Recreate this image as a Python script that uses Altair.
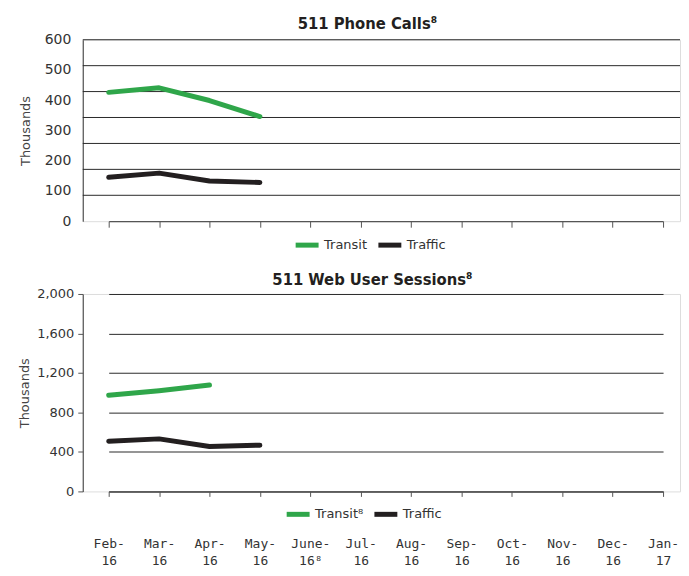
import altair as alt
import pandas as pd

months = ["Feb-16", "Mar-16", "Apr-16", "May-16", "June-16⁸", "Jul-16",
          "Aug-16", "Sep-16", "Oct-16", "Nov-16", "Dec-16", "Jan-17"]

phone_months = ["Feb-16", "Mar-16", "Apr-16", "May-16"]
phone_transit = [426, 441, 399, 346]
phone_traffic = [145, 159, 133, 128]

web_transit_months = ["Feb-16", "Mar-16", "Apr-16"]
web_transit = [973, 1020, 1078]
web_traffic_months = ["Feb-16", "Mar-16", "Apr-16", "May-16"]
web_traffic = [508, 532, 455, 468]

phone_y_labels = [0, 100, 200, 300, 400, 500, 600]
phone_grid = [85.7, 171.4, 257.1, 342.9, 428.6, 514.3, 600]
web_y_labels = [0, 400, 800, 1200, 1600, 2000]

GREEN = "#2fa64a"
BLACK = "#231f20"
TITLE_FONT = "Liberation Sans Narrow, DejaVu Sans Condensed, Liberation Sans, sans-serif"

phone_df = pd.DataFrame(
    [{"month": m, "series": "Transit", "value": v} for m, v in zip(phone_months, phone_transit)]
    + [{"month": m, "series": "Traffic", "value": v} for m, v in zip(phone_months, phone_traffic)]
)
web_df = pd.DataFrame(
    [{"month": m, "series": "Transit⁸", "value": v} for m, v in zip(web_transit_months, web_transit)]
    + [{"month": m, "series": "Traffic", "value": v} for m, v in zip(web_traffic_months, web_traffic)]
)
grid_df = pd.DataFrame({"g": phone_grid})

W = 599

x_scale = alt.Scale(type="point", domain=months, range=[26, 582], padding=0)


def legend(x, y):
    return alt.Legend(orient="none", legendX=x, legendY=y, direction="horizontal",
                      title=None, symbolType="stroke", symbolSize=529,
                      symbolStrokeWidth=5, labelFont="DejaVu Sans", labelFontSize=13,
                      labelColor="#333", columnPadding=0, labelOffset=3)


# ---------- top chart ----------
phone_y_scale = alt.Scale(domain=[0, 600], nice=False)
phone_y_axis = alt.Axis(values=phone_y_labels, grid=False, ticks=False, labelPadding=12,
                        labelFont="DejaVu Sans", labelFontSize=14, labelColor="#333",
                        domainColor="#555", domainWidth=1.2,
                        title="Thousands", titleFont="DejaVu Sans", titleFontSize=13,
                        titleFontWeight="normal", titleColor="#444", titlePadding=12)

phone_grid_layer = alt.Chart(grid_df).mark_rule(color="#2a2a2a", strokeWidth=1).encode(
    y=alt.Y("g:Q", scale=phone_y_scale, axis=phone_y_axis)
)
phone_lines = alt.Chart(phone_df).mark_line(strokeWidth=5, strokeCap="round", strokeJoin="round").encode(
    x=alt.X("month:N", scale=x_scale, sort=months,
            axis=alt.Axis(labels=False, ticks=True, tickSize=6, tickColor="#555",
                          domainColor="#555", domainWidth=1.2, title=None, grid=False)),
    y=alt.Y("value:Q", scale=phone_y_scale, axis=phone_y_axis),
    color=alt.Color("series:N", scale=alt.Scale(domain=["Transit", "Traffic"], range=[GREEN, BLACK]),
                    legend=legend(211, 192)),
)
top = alt.layer(phone_grid_layer, phone_lines).properties(
    width=W, height=182,
    title=alt.TitleParams("511 Phone Calls⁸", font=TITLE_FONT, fontSize=16.5,
                          fontWeight="bold", color=BLACK, anchor="middle", frame="group",
                          dx=-14, offset=0),
)

# ---------- bottom chart ----------
web_y_scale = alt.Scale(domain=[0, 2000], nice=False)
web_lines = alt.Chart(web_df).mark_line(strokeWidth=5, strokeCap="round", strokeJoin="round").encode(
    x=alt.X("month:N", scale=x_scale, sort=months,
            axis=alt.Axis(labelExpr="[split(datum.label, '-')[0] + '-', split(datum.label, '-')[1]]",
                          labelAngle=0, labelFont="DejaVu Sans Mono", labelFontSize=13,
                          labelColor="#333", labelPadding=41, labelLineHeight=17,
                          ticks=True, tickSize=5, tickColor="#555",
                          domainColor="#555", domainWidth=1.5, title=None, grid=False)),
    y=alt.Y("value:Q", scale=web_y_scale,
            axis=alt.Axis(values=web_y_labels, format=",d", grid=True, gridColor="#2a2a2a",
                          gridWidth=1, ticks=True, tickSize=5, tickColor="#555",
                          labelPadding=4, labelFont="DejaVu Sans", labelFontSize=13,
                          labelColor="#333", domainColor="#555", domainWidth=1.2,
                          title="Thousands", titleFont="DejaVu Sans", titleFontSize=13,
                          titleFontWeight="normal", titleColor="#444", titlePadding=5)),
    color=alt.Color("series:N", scale=alt.Scale(domain=["Transit⁸", "Traffic"], range=[GREEN, BLACK]),
                    legend=legend(202, 207)),
)
bottom = web_lines.properties(
    width=W, height=198,
    title=alt.TitleParams("511 Web User Sessions⁸", font=TITLE_FONT, fontSize=16.5,
                          fontWeight="bold", color=BLACK, anchor="middle", frame="group",
                          dx=-9, offset=0),
)

chart = alt.vconcat(top, bottom, spacing=15).resolve_scale(color="independent").properties(
    padding={"left": 10, "top": 7, "right": 0, "bottom": 0}
).configure_view(stroke=None).configure(background="white")

chart.save("out.html", embed_options={"renderer": "svg", "actions": False})
